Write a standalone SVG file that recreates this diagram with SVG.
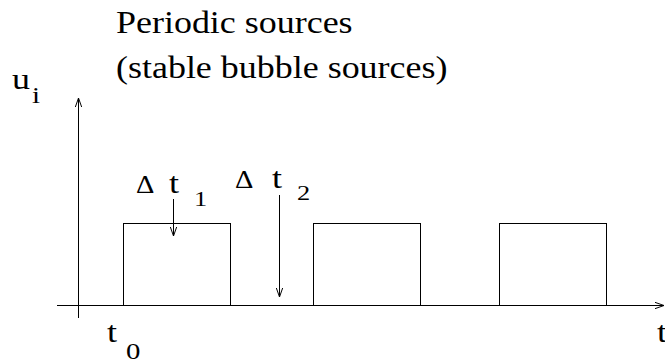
<svg xmlns="http://www.w3.org/2000/svg" width="665" height="364" viewBox="0 0 665 364">
<style>
text{font-family:"Liberation Serif","Times New Roman",serif;fill:#000}
.ln{stroke:#000;stroke-width:1;fill:none}
.box{stroke:#000;stroke-width:1;fill:none}
</style>
<defs>
<marker id="ah" viewBox="0 0 10 10" refX="10" refY="5" markerWidth="9" markerHeight="9" markerUnits="userSpaceOnUse" orient="auto">
<path d="M0,1.5 L10,5 L0,8.5" fill="none" stroke="#000" stroke-width="1.1"/>
</marker>
</defs>
<g id="title">
<text font-size="31" transform="translate(116,33) scale(1.16,1)">Periodic sources</text>
<text font-size="31" transform="translate(116,78) scale(1.16,1)">(stable bubble sources)</text>
</g>
<g id="pulse1"><rect class="box" x="123.5" y="223.5" width="107" height="82"/></g>
<g id="pulse2"><rect class="box" x="313.5" y="223.5" width="107" height="82"/></g>
<g id="pulse3"><rect class="box" x="499.5" y="223.5" width="107" height="82"/></g>
<g id="connectors">
<line class="ln" x1="57" y1="305.5" x2="664" y2="305.5" marker-end="url(#ah)"/>
<line class="ln" x1="78.5" y1="318" x2="78.5" y2="98" marker-end="url(#ah)"/>
<line class="ln" x1="173.5" y1="199" x2="173.5" y2="236" marker-end="url(#ah)"/>
<line class="ln" x1="279.5" y1="195" x2="279.5" y2="297" marker-end="url(#ah)"/>
</g>
<g id="label-ui">
<text font-size="30" transform="translate(12,89) scale(1.2,1)">u</text>
<text font-size="24" transform="translate(32,103) scale(1.2,1)">i</text>
</g>
<g id="label-dt1">
<text font-size="26" transform="translate(136,193) scale(1.1,1)">Δ</text>
<text font-size="30" transform="translate(169,193) scale(1.2,1)">t</text>
<text font-size="22" transform="translate(194,206) scale(1.2,1)">1</text>
</g>
<g id="label-dt2">
<text font-size="26" transform="translate(235,188) scale(1.1,1)">Δ</text>
<text font-size="30" transform="translate(272,188) scale(1.2,1)">t</text>
<text font-size="22" transform="translate(297,200) scale(1.2,1)">2</text>
</g>
<g id="label-t0">
<text font-size="30" transform="translate(107,342) scale(1.2,1)">t</text>
<text font-size="24" transform="translate(126,359) scale(1.2,1)">0</text>
</g>
<g id="label-t">
<text font-size="30" transform="translate(657,342) scale(1.2,1)">t</text>
</g>
</svg>
